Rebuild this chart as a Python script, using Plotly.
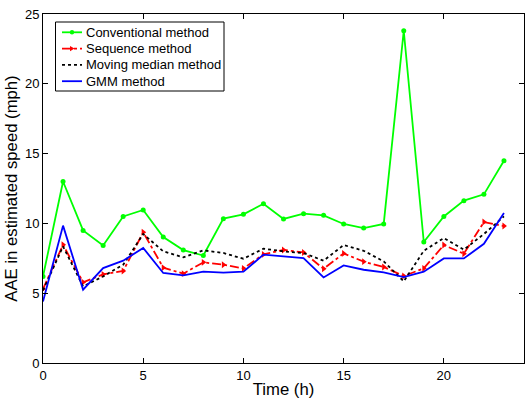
import plotly.graph_objects as go

hours = list(range(24))

conventional = [6.2, 13.0, 9.5, 8.42, 10.5, 10.96, 9.02, 8.09, 7.7, 10.34, 10.65, 11.41,
                10.32, 10.7, 10.58, 9.96, 9.67, 9.96, 23.8, 8.67, 10.5, 11.63, 12.08, 14.49]
sequence = [5.3, 8.47, 5.78, 6.35, 6.59, 9.36, 6.83, 6.4, 7.21, 7.04, 6.78, 7.78,
            8.1, 7.92, 6.75, 7.85, 7.26, 6.88, 6.23, 6.78, 8.45, 7.83, 10.1, 9.81]
moving_median = [5.2, 8.35, 5.49, 6.2, 7.04, 9.24, 8.0, 7.57, 8.07, 7.88, 7.47, 8.19,
                 8.0, 7.88, 7.33, 8.45, 8.04, 7.28, 5.85, 8.04, 8.95, 8.12, 9.24, 10.5]
gmm = [4.41, 9.84, 5.25, 6.8, 7.33, 8.24, 6.45, 6.28, 6.54, 6.47, 6.54, 7.76,
       7.64, 7.52, 6.13, 6.99, 6.68, 6.49, 6.16, 6.54, 7.49, 7.49, 8.54, 10.74]

series_names = ["Conventional method", "Sequence method", "Moving median method", "GMM method"]
x_ticks = [0, 5, 10, 15, 20]
y_ticks = [0, 5, 10, 15, 20, 25]

font_family = "Liberation Sans, Arial, sans-serif"
W, H = 525, 400
M_L, M_R, M_T, M_B = 43, 1, 14, 37
PLOT_W = W - M_L - M_R
PLOT_H = H - M_T - M_B


def px_to_paper(px, py):
    """Convert page pixel position to paper (plot-area) coordinates."""
    return (px - M_L) / PLOT_W, (H - M_B - py) / PLOT_H


styles = [
    dict(color="#00ff00", dash="solid", marker="circle"),
    dict(color="#ff0000", dash="dashdot", marker="triangle-right"),
    dict(color="#000000", dash="dot", marker=None),
    dict(color="#0000ff", dash="solid", marker=None),
]
series_values = [conventional, sequence, moving_median, gmm]

fig = go.Figure()
for name, vals, st in zip(series_names, series_values, styles):
    fig.add_trace(go.Scatter(
        x=hours, y=vals, name=name,
        mode="lines+markers" if st["marker"] else "lines",
        line=dict(color=st["color"], width=1.8, dash=st["dash"]),
        marker=dict(symbol=st["marker"] or "circle", size=5 if st["marker"] == "circle" else 6,
                    color=st["color"]),
        showlegend=False))

axis_common = dict(
    showline=True, linecolor="black", linewidth=1, mirror="ticks",
    ticks="inside", ticklen=5, tickcolor="black", showgrid=False, zeroline=False,
    tickfont=dict(family=font_family, size=13, color="black"),
)
title_font = dict(family=font_family, size=16.7, color="black")

fig.update_xaxes(range=[0, 24], tickvals=x_ticks,
                 title=dict(text="Time (h)", font=title_font, standoff=1),
                 **axis_common)
fig.update_yaxes(range=[0, 25], tickvals=y_ticks,
                 title=dict(text="AAE in estimated speed (mph)", font=title_font, standoff=3),
                 **axis_common)

# Boxed legend in the upper-left corner of the axes
shapes = []
annotations = []
bx0, by0 = px_to_paper(55.5, 22)
bx1, by1 = px_to_paper(224, 91)
shapes.append(dict(type="rect", xref="paper", yref="paper", x0=bx0, y0=by1, x1=bx1, y1=by0,
                   line=dict(color="black", width=1), fillcolor="white", layer="above"))
row_y = [32.3, 48.6, 64.9, 81.2]
for name, st, ry in zip(series_names, styles, row_y):
    lx0, ly = px_to_paper(62, ry)
    lx1, _ = px_to_paper(82, ry)
    shapes.append(dict(type="line", xref="paper", yref="paper", x0=lx0, y0=ly, x1=lx1, y1=ly,
                       line=dict(color=st["color"], width=1.8, dash=st["dash"]), layer="above"))
    cx, cy = px_to_paper(72, ry)
    if st["marker"] == "circle":
        rx, ry_ = 2.2 / PLOT_W, 2.2 / PLOT_H
        shapes.append(dict(type="circle", xref="paper", yref="paper",
                           x0=cx - rx, x1=cx + rx, y0=cy - ry_, y1=cy + ry_,
                           fillcolor=st["color"], line=dict(color=st["color"], width=0),
                           layer="above"))
    elif st["marker"] == "triangle-right":
        ax, ay = px_to_paper(70, ry - 2.6)
        bx, by = px_to_paper(70, ry + 2.6)
        tx, ty = px_to_paper(74.5, ry)
        shapes.append(dict(type="path", xref="paper", yref="paper",
                           path=f"M{ax},{ay} L{bx},{by} L{tx},{ty} Z",
                           fillcolor=st["color"], line=dict(color=st["color"], width=0),
                           layer="above"))
    tx0, _ = px_to_paper(83.5, ry)
    annotations.append(dict(text=name, xref="paper", yref="paper", x=tx0, y=ly,
                            xanchor="left", yanchor="middle", showarrow=False,
                            font=dict(family=font_family, size=13, color="black")))

fig.update_layout(
    width=W, height=H,
    margin=dict(l=M_L, r=M_R, t=M_T, b=M_B),
    plot_bgcolor="white", paper_bgcolor="white",
    font=dict(family=font_family, size=13, color="black"),
    shapes=shapes, annotations=annotations,
    showlegend=False,
)

fig.write_html("out.html")
